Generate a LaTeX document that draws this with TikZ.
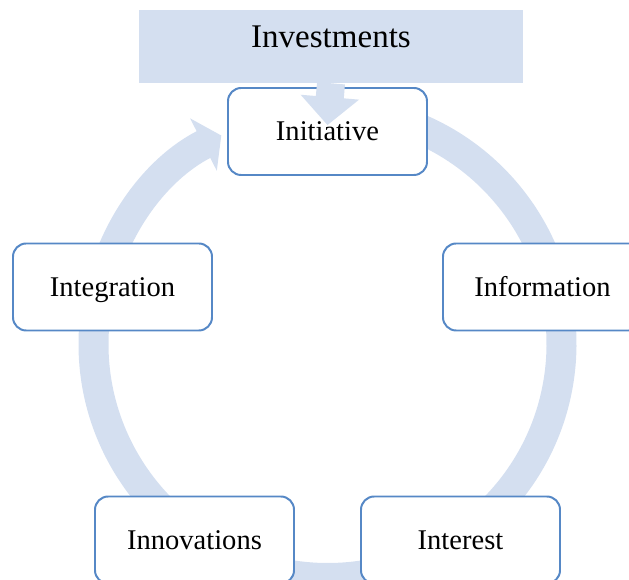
\documentclass[tikz,border=0pt]{standalone}
\usepackage{fontspec}
\setmainfont{Liberation Serif}
\usepackage{xcolor}
\usetikzlibrary{arrows.meta}
\definecolor{ringblue}{RGB}{212,223,240}
\definecolor{boxline}{RGB}{86,136,198}
\tikzset{
  stage/.style   = { draw=boxline, line width=1.4pt, fill=white, rounded corners=0.33cm,
                     minimum width=4.975cm, minimum height=2.175cm,
                     text height=13.4pt, text depth=0pt,
                     font=\fontsize{20.3}{24}\selectfont },
  source/.style  = { fill=ringblue, minimum width=9.6cm, minimum height=1.825cm,
                     text depth=0.475cm, font=\fontsize{23.5}{28}\selectfont },
  cycle/.style   = { ringblue, line width=0.75cm, -{Triangle[width=1.45cm, length=0.5cm]} },
  feed/.style    = { ringblue, line width=0.7cm, -{Triangle[width=1.425cm, length=0.7cm]} }
}
\begin{document}
\begin{tikzpicture}
  \useasboundingbox (0,0) rectangle (15.725,14.5);
  \clip (0,0) rectangle (15.725,14.5);
  % Draw the cycle
  \draw[cycle] (8.1875,5.9) ++(85:5.85) arc[start angle=85, end angle=-243, radius=5.85];
  % Draw all stages
  \node[stage] (init)  at (8.1875,11.2125) {Initiative};
  \node[stage] (info)  at (13.5625,7.325)  {Information};
  \node[stage] (inter) at (11.5125,1.0)    {Interest};
  \node[stage] (innov) at (4.8625,1.0)     {Innovations};
  \node[stage] (integ) at (2.8125,7.325)   {Integration};
  % Draw investments
  \node[source] (invest) at (8.275,13.3375) {Investments};
  \draw[feed] (invest.south) -- ([yshift=0.16cm]init.center);
\end{tikzpicture}
\end{document}
